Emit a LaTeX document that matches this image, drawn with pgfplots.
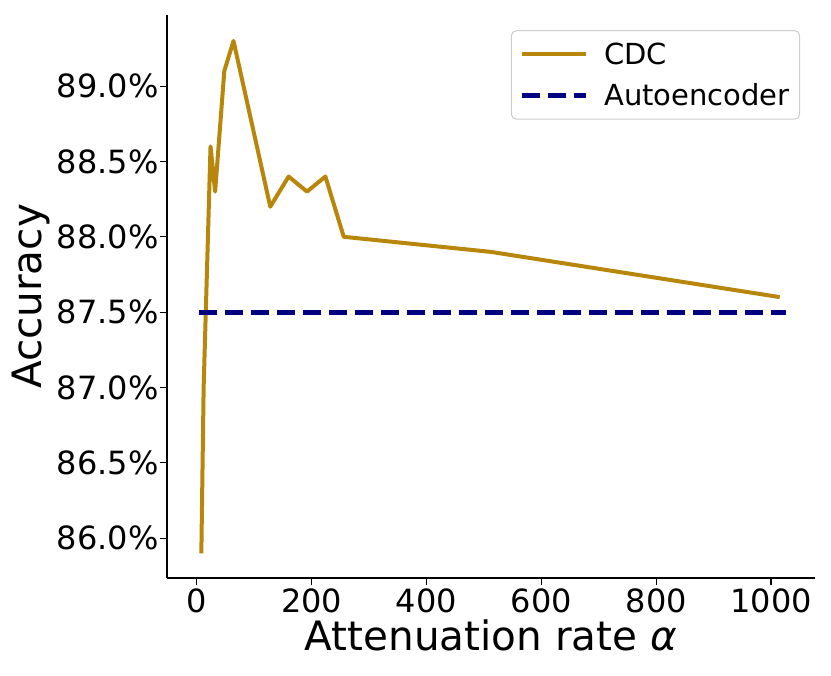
\documentclass[border=0pt]{standalone}
\usepackage{fontspec}
\setmainfont{DejaVu Sans}
\usepackage{pgfplots}
\pgfplotsset{compat=1.18}
\definecolor{cdc}{HTML}{B8860B}
\definecolor{ae}{HTML}{000080}
\begin{document}
\begin{tikzpicture}[x=1pt,y=1pt]
\path[use as bounding box] (-167,-98) rectangle (664,578);
\begin{axis}[
  at={(0pt,0pt)}, anchor=south west,
  scale only axis, width=648pt, height=563pt,
  xmin=-51.8, xmax=1076.5, ymin=85.736, ymax=89.472,
  axis x line*=bottom, axis y line*=left,
  axis line style={line width=1.2pt, black},
  tick align=outside, major tick length=7pt,
  tick style={line width=1.2pt, black},
  xtick={0,200,400,600,800,1000},
  ytick={86,86.5,87,87.5,88,88.5,89},
  yticklabel={\pgfmathprintnumber[fixed,fixed zerofill,precision=1]{\tick}\%},
  /pgf/number format/assume math mode=true,
  /pgf/number format/1000 sep={},
  ticklabel style={font=\fontsize{32}{38}\selectfont},
  yticklabel style={xshift=2pt},
  label style={font=\fontsize{40.5}{48}\selectfont},
  xlabel={Attenuation rate \textit{α}},
  ylabel={Accuracy},
  legend style={at={(0.977,0.973)}, anchor=north east, draw=black!20,
    rounded corners=5pt, line width=1pt, font=\fontsize{29}{34}\selectfont,
    inner xsep=8pt, inner ysep=10pt, row sep=14pt,
    /tikz/every odd column/.append style={column sep=14pt}},
  legend cell align=left,
  legend image code/.code={\draw[#1] (0pt,0pt) -- (64pt,0pt);},
]
\addplot[cdc, line width=4pt, line join=round] coordinates {
(8,85.9) (12,87.0) (24,88.6) (32,88.3) (48,89.1) (64,89.3) (128,88.2)
(160,88.4) (192,88.3) (224,88.4) (256,88.0) (512,87.9) (1015,87.6)};
\addlegendentry{CDC}
\addplot[ae, line width=4.8pt, dash pattern=on 18pt off 8pt] coordinates {
(4,87.5) (1026,87.5)};
\addlegendentry{Autoencoder}
\end{axis}
\end{tikzpicture}
\end{document}
